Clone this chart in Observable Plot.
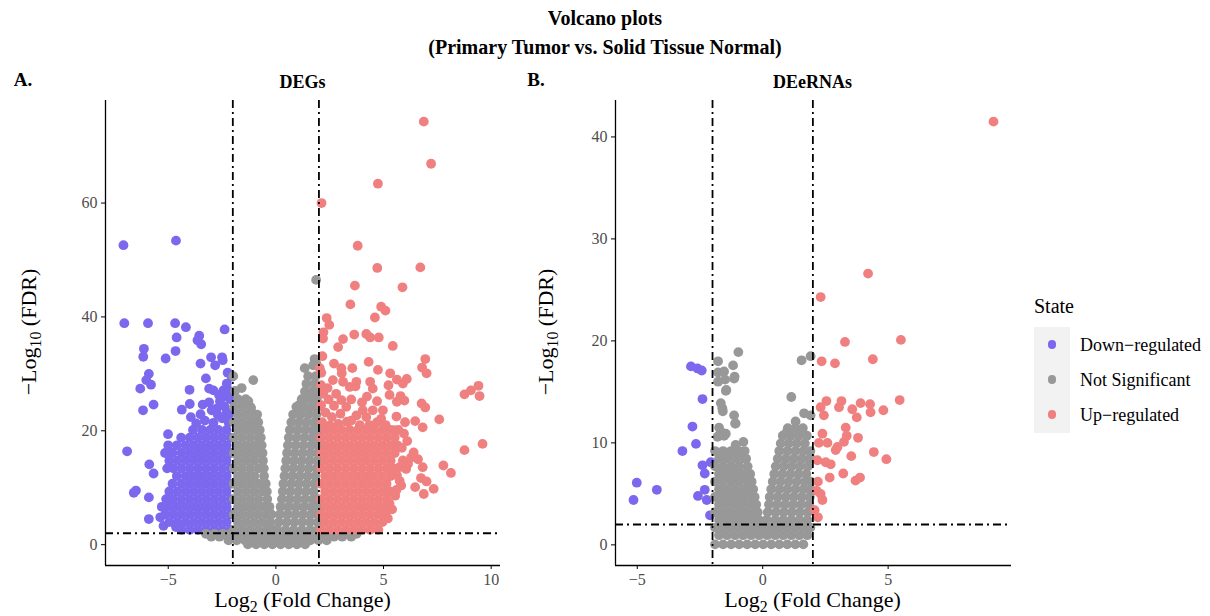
<!DOCTYPE html>
<html><head><meta charset="utf-8">
<script src="https://cdn.jsdelivr.net/npm/d3@7"></script>
<script src="https://cdn.jsdelivr.net/npm/@observablehq/plot@0.6"></script>
<style>
body{margin:0;background:#fff;font-family:"Liberation Serif","Times New Roman",serif;}
#root{position:relative;width:1210px;height:616px;overflow:hidden;background:#fff;}
.t{position:absolute;white-space:nowrap;color:#000;line-height:1;}
.c{transform:translate(-50%,-50%);}
.b{font-weight:bold;}
sub{font-size:72%;vertical-align:baseline;position:relative;top:0.32em;}
svg{position:absolute;top:0;}
svg text{font-family:"Liberation Serif","Times New Roman",serif;}
</style></head><body><div id="root"></div>
<script>
// ---------- shared ----------
const stateNames = ["Down-regulated", "Not Significant", "Up-regulated"];
const stateLabels = ["Down\u2212regulated", "Not Significant", "Up\u2212regulated"];
const stateColors = ["#7B68EE", "#989898", "#F08080"];
const fcCut = 2;     // |log2 FC| threshold
const fdrCut = 2;    // -log10(FDR) threshold

// ---------- Panel A: DEGs ----------
const degXTicks = [-5, 0, 5, 10];
const degYTicks = [0, 20, 40, 60];
const degDownScatter = [
  [-7.08,52.6],[-4.64,53.4],[-7.04,38.9],[-5.94,38.9],[-4.68,38.9],[-4.18,38.2],[-2.38,37.8],
  [-4.61,36.4],[-3.56,36.7],[-3.64,35.9],[-3.47,35.2],[-6.13,34.4],[-6.16,33.0],[-4.66,34.0],[-5.12,32.7],
  [-3.5,31.8],[-3.01,32.9],[-2.82,31.5],[-2.5,32.9],[-2.47,32.4],[-2.24,30.2],[-5.9,30.0],[-6.02,28.9],
  [-5.8,28.1],[-6.3,27.4],[-3.25,29.2],[-4.01,27.2],[-3.1,27.4],[-2.9,27.1],[-2.64,26.3],[-2.44,27.1],
  [-2.28,28.3],[-2.16,27.0],[-5.68,24.6],[-6.17,23.6],[-4.37,23.7],[-4.0,24.7],[-2.98,23.6],[-2.75,23.9],
  [-2.28,23.3],[-3.95,22.4],[-6.91,16.4],[-5.01,19.4],[-5.88,14.1],[-5.68,12.5],[-6.5,9.5],[-6.6,9.1],
  [-5.9,8.3],[-5.9,4.5],[-5.37,4.8],[-5.22,3.3],[-4.64,3.1],
  [-2.2,21.5],[-2.5,22.2],[-2.9,21.4],[-3.3,21.8],[-2.15,23.0],[-2.4,24.3],[-2.7,22.8],[-3.5,22.9],
  [-2.1,25.5],[-2.3,26.0],[-3.1,25.0],[-2.6,25.2],[-3.7,21.3],[-3.4,24.6],[-2.05,29.5]
];
const degDownRows = [
  [2.6,  [-2.1,-2.48,-2.86,-3.24,-3.62,-4.0,-4.38]],
  [3.95, [-2.29,-2.67,-3.05,-3.43,-3.81,-4.19,-4.57,-4.95]],
  [5.3,  [-2.1,-2.48,-2.86,-3.24,-3.62,-4.0,-4.38,-4.76,-5.14]],
  [6.65, [-2.29,-2.67,-3.05,-3.43,-3.81,-4.19,-4.57,-4.95,-5.3]],
  [8.0,  [-2.1,-2.48,-2.86,-3.24,-3.62,-4.0,-4.38,-4.76,-5.1]],
  [9.35, [-2.29,-2.67,-3.05,-3.43,-3.81,-4.19,-4.57,-4.95]],
  [10.7, [-2.1,-2.48,-2.86,-3.24,-3.62,-4.0,-4.38,-4.8]],
  [12.05,[-2.29,-2.67,-3.05,-3.43,-3.81,-4.19,-4.6]],
  [13.4, [-2.1,-2.48,-2.86,-3.24,-3.62,-4.0,-4.38,-4.76,-5.05]],
  [14.75,[-2.29,-2.67,-3.05,-3.43,-3.81,-4.19,-4.57,-4.95]],
  [16.1, [-2.1,-2.48,-2.86,-3.24,-3.62,-4.0,-4.38,-4.8,-5.15]],
  [17.45,[-2.29,-2.67,-3.05,-3.43,-3.81,-4.19,-4.6,-5.0]],
  [18.8, [-2.1,-2.48,-2.86,-3.24,-3.62,-4.0,-4.4]],
  [20.15,[-2.29,-2.67,-3.05,-3.43,-3.85]]
];
const degGreyScatter = [
  [1.87,46.5],[-1.98,29.6],[-1.59,27.5],[-1.05,28.9],[-1.28,25.2],[-1.9,27.0],
  [1.34,31.0],[1.73,31.5],[1.88,31.8],[1.8,32.6],[1.1,24.6],[-1.15,24.0]
];
const degGreyRows = [
  [0.05, [-1.3,-0.92,-0.54,-0.16,0.22,0.6,0.98,1.36]],
  [0.75, [-2.2,-1.82,-1.44,-1.06,-0.68,-0.3,0.08,0.46,0.84,1.22,1.6,1.98,2.36]],
  [1.4,  [-3.0,-2.62,-2.24,-1.86,-1.48,-1.1,-0.72,-0.34,0.04,0.42,0.8,1.18,1.56,1.94,2.32,2.7,3.08,3.5]],
  [1.9,  [-3.25,-2.85,-2.45,-2.1,2.1,2.5,2.9,3.3,3.75]],
  [2.6,  [-1.95,-1.57,-1.19,-0.81,-0.43,-0.12,0.08,0.45,0.83,1.21,1.59,1.95]],
  [3.95, [-1.76,-1.38,-1.0,-0.62,-0.25,0.14,0.5,0.86,1.22,1.58,1.94]],
  [5.3,  [-1.95,-1.57,-1.19,-0.81,-0.43,-0.2,0.18,0.54,0.9,1.26,1.62,1.95]],
  [6.65, [-1.76,-1.38,-1.0,-0.62,-0.3,0.22,0.58,0.94,1.3,1.66,1.95]],
  [8.0,  [-1.95,-1.57,-1.19,-0.81,-0.4,0.28,0.64,1.0,1.36,1.72,1.95]],
  [9.35, [-1.76,-1.38,-1.0,-0.62,-0.42,0.32,0.68,1.04,1.4,1.76]],
  [10.7, [-1.95,-1.57,-1.19,-0.81,-0.47,0.35,0.71,1.07,1.43,1.79]],
  [12.05,[-1.76,-1.38,-1.0,-0.55,0.4,0.76,1.12,1.48,1.84]],
  [13.4, [-1.95,-1.57,-1.19,-0.81,-0.56,0.44,0.8,1.16,1.52,1.88]],
  [14.75,[-1.76,-1.38,-1.0,-0.6,0.48,0.84,1.2,1.56,1.92]],
  [16.1, [-1.95,-1.57,-1.19,-0.81,-0.62,0.52,0.88,1.24,1.6,1.95]],
  [17.45,[-1.76,-1.38,-1.0,-0.66,0.56,0.92,1.28,1.64,1.95]],
  [18.8, [-1.95,-1.57,-1.19,-0.81,-0.7,0.6,0.96,1.32,1.68,1.95]],
  [20.15,[-1.76,-1.38,-1.0,-0.75,0.65,1.0,1.36,1.72,1.95]],
  [21.5, [-1.95,-1.57,-1.19,-0.82,0.72,1.08,1.44,1.8]],
  [22.85,[-1.76,-1.38,-1.0,-0.87,0.8,1.16,1.52,1.88]],
  [24.2, [-1.95,-1.57,-1.19,0.95,1.3,1.66,1.95]],
  [25.55,[-1.76,-1.4,1.2,1.55,1.9]],
  [26.9, [1.35,1.7,1.95]],
  [28.25,[1.42,1.8]],
  [29.6, [1.5,1.85]]
];
const degUpScatter = [
  [6.87,74.3],[7.21,66.9],[4.74,63.4],[2.12,60.0],[3.80,52.5],[4.71,48.6],[6.71,48.7],[3.67,45.5],[5.88,45.2],
  [3.46,42.2],[4.89,41.8],[5.09,41.1],[4.6,39.9],[2.36,39.8],[2.48,38.6],[2.21,37.3],[2.19,36.2],[3.12,36.1],
  [3.64,36.9],[4.2,37.0],[4.38,36.4],[4.78,36.4],[2.89,34.7],[5.43,34.9],[2.16,33.1],[6.94,32.6],[6.79,31.1],
  [7.0,30.1],[2.7,31.8],[3.04,31.0],[3.06,30.1],[3.55,31.0],[4.31,32.1],[4.74,30.7],[5.31,30.1],[5.62,29.0],
  [6.08,29.1],[5.9,28.3],[5.23,28.0],[3.7,27.8],[4.38,28.6],[8.76,26.4],[9.06,27.1],[9.41,27.9],[9.46,26.1],
  [5.79,26.1],[5.62,25.1],[5.97,25.3],[6.77,24.8],[6.94,24.1],[7.59,22.0],[6.47,21.7],[6.82,20.6],
  [9.6,17.7],[8.76,16.6],[6.28,15.3],[6.14,14.2],[6.05,13.3],[6.82,13.6],[7.78,13.9],[8.13,12.6],[6.74,11.7],
  [7.0,11.1],[6.47,10.1],[6.87,8.9],[7.33,9.8],[5.82,10.4],[5.62,12.2],[5.74,13.6],[5.9,14.8],[5.54,8.6],[5.28,7.2],
  [2.04,31.0],[2.11,30.2],[2.65,28.9],[3.12,28.6],[3.43,27.7],[3.74,28.6],[4.5,27.4],[4.23,26.0],[5.28,26.3],
  [3.04,25.4],[3.27,24.2],[3.74,22.7],[3.5,21.8],[4.04,23.6],[4.5,23.6],[4.97,23.6],[4.89,22.1],[4.35,21.0],[5.5,20.1],
  [2.1,28.0],[2.2,26.5],[2.45,25.5],[2.1,24.5],[2.3,23.2],[2.6,22.4],[2.15,21.5],[2.9,21.2],[2.7,24.4],[3.0,23.0],
  [3.3,21.6],[2.5,20.9],[3.9,21.0],[4.2,22.4],[4.7,21.5],[5.1,21.0],[2.8,26.5],[3.5,25.5],[4.0,25.0],[4.7,25.2],
  [2.4,27.5],[5.6,22.5],[6.0,21.5],[5.95,19.5],[6.1,18.2],[5.85,17.0],[6.4,16.2],[6.6,15.0],[5.75,11.2],[5.6,9.6],
  [5.4,6.2],[5.2,4.6]
];
const degUpRows = [
  [2.6,  [2.1,2.48,2.86,3.24,3.62,4.0,4.38,4.76]],
  [3.95, [2.29,2.67,3.05,3.43,3.81,4.19,4.57,4.95]],
  [5.3,  [2.1,2.48,2.86,3.24,3.62,4.0,4.38,4.76,5.1]],
  [6.65, [2.29,2.67,3.05,3.43,3.81,4.19,4.57,4.95,5.25]],
  [8.0,  [2.1,2.48,2.86,3.24,3.62,4.0,4.38,4.76,5.14]],
  [9.35, [2.29,2.67,3.05,3.43,3.81,4.19,4.57,4.95,5.3]],
  [10.7, [2.1,2.48,2.86,3.24,3.62,4.0,4.38,4.76,5.14]],
  [12.05,[2.29,2.67,3.05,3.43,3.81,4.19,4.57,4.95,5.33]],
  [13.4, [2.1,2.48,2.86,3.24,3.62,4.0,4.38,4.76,5.14,5.45]],
  [14.75,[2.29,2.67,3.05,3.43,3.81,4.19,4.57,4.95,5.33]],
  [16.1, [2.1,2.48,2.86,3.24,3.62,4.0,4.38,4.76,5.14,5.52]],
  [17.45,[2.29,2.67,3.05,3.43,3.81,4.19,4.57,4.95,5.33,5.65]],
  [18.8, [2.1,2.48,2.86,3.24,3.62,4.0,4.38,4.76,5.14,5.52]],
  [20.15,[2.29,2.67,3.05,3.43,3.81,4.19,4.57,4.95,5.33,5.7]]
];

// ---------- Panel B: DEeRNAs ----------
const eXTicks = [-5, 0, 5];
const eYTicks = [0, 10, 20, 30, 40];
const eDownScatter = [
  [-2.86,17.5],[-2.6,17.3],[-2.43,17.1],[-2.40,14.3],[-2.8,11.6],[-2.66,9.9],[-3.2,9.2],[-2.4,7.8],
  [-2.31,7.0],[-2.07,8.1],[-5.02,6.1],[-5.15,4.4],[-4.22,5.4],[-2.31,5.4],[-2.58,4.8],[-2.23,4.4],[-2.1,2.9]
];
const eUpScatter = [
  [9.2,41.5],[4.2,26.6],[2.31,24.3],[3.28,19.9],[5.51,20.1],[2.35,18.0],[2.88,17.8],[4.39,18.2],
  [2.54,14.1],[3.14,14.1],[3.04,13.5],[2.31,13.5],[2.44,12.7],[3.57,13.3],[3.75,12.5],[3.9,13.9],[4.28,13.8],
  [4.3,13.0],[4.81,13.2],[5.46,14.2],[2.38,10.9],[2.24,10.0],[2.58,10.0],[2.98,9.6],[2.91,9.3],[3.31,11.5],
  [3.35,10.7],[3.24,10.1],[3.8,10.5],[2.18,8.3],[2.51,8.1],[2.71,7.9],[3.53,8.7],[4.43,9.1],[4.93,8.4],
  [2.67,6.6],[3.21,7.0],[3.7,6.3],[3.88,6.6],[2.2,6.2],[2.15,5.3],[2.31,5.0],[2.38,4.4],[2.07,3.4],[2.2,2.7]
];
const eGreyScatter = [
  [-0.97,18.9],[-1.78,18.0],[-1.18,17.6],[-1.14,16.3],[-1.78,16.9],[-1.78,16.0],[-1.47,15.1],[-1.67,13.9],
  [-1.61,13.4],[-1.14,12.7],[-1.08,11.9],[-1.74,11.5],[-1.47,10.9],[-1.8,10.6],[-0.77,10.1],[-1.08,9.8],
  [-1.54,17.0],[-1.5,16.2],[-1.12,16.5],[-1.45,15.2],[-1.59,13.1],[-1.1,11.9],[-1.67,11.1],[-1.54,10.7],
  [1.55,18.1],[1.91,18.5],[1.14,14.5],[1.65,12.9],[1.91,12.7],[1.31,12.1],[1.58,11.1],[0.98,11.2],[0.92,10.9],[1.91,8.5]
];
const eGreyRows = [
  [0.05, [-1.9,-1.58,-1.26,-0.94,-0.62,-0.3,0.02,0.34,0.66,0.98,1.3,1.62]],
  [0.95, [-1.74,-1.42,-1.1,-0.78,-0.46,-0.14,0.18,0.5,0.82,1.14,1.46,1.78]],
  [1.7,  [-1.9,-1.58,-1.26,-0.94,-0.62,-0.3,-0.08,0.05,0.34,0.66,0.98,1.3,1.62,1.9]],
  [2.45, [-1.74,-1.42,-1.1,-0.78,-0.46,-0.15,0.16,0.5,0.82,1.14,1.46,1.78]],
  [3.2,  [-1.9,-1.58,-1.26,-0.94,-0.62,-0.3,-0.2,0.2,0.52,0.84,1.16,1.48,1.8]],
  [3.95, [-1.74,-1.42,-1.1,-0.78,-0.46,-0.26,0.25,0.57,0.89,1.21,1.53,1.85]],
  [4.7,  [-1.9,-1.58,-1.26,-0.94,-0.62,-0.32,0.28,0.6,0.92,1.24,1.56,1.88]],
  [5.45, [-1.74,-1.42,-1.1,-0.78,-0.46,-0.38,0.34,0.66,0.98,1.3,1.62,1.9]],
  [6.2,  [-1.9,-1.58,-1.26,-0.94,-0.62,-0.44,0.4,0.72,1.04,1.36,1.68,1.92]],
  [6.95, [-1.74,-1.42,-1.1,-0.78,-0.5,0.46,0.78,1.1,1.42,1.74]],
  [7.7,  [-1.9,-1.58,-1.26,-0.94,-0.6,0.52,0.84,1.16,1.48,1.8]],
  [8.45, [-1.74,-1.42,-1.1,-0.78,-0.66,0.6,0.92,1.24,1.56,1.88]],
  [9.2,  [-1.9,-1.58,-1.26,-0.94,-0.72,0.66,0.98,1.3,1.62,1.9]],
  [9.95, [0.72,1.04,1.36,1.68]],
  [10.7, [0.8,1.12,1.44,1.76]],
  [11.45,[1.0,1.3,1.6]]
];

// ---------- build ----------
const fromPairs = (pairs, s) => pairs.map(([x, y]) => ({x, y, state: stateNames[s]}));
const fromRows = (rows, s) => rows.flatMap(([y, xs]) => xs.map(x => ({x, y, state: stateNames[s]})));

const degData = [
  ...fromPairs(degDownScatter, 0), ...fromRows(degDownRows, 0),
  ...fromRows(degGreyRows, 1), ...fromPairs(degGreyScatter, 1),
  ...fromRows(degUpRows, 2), ...fromPairs(degUpScatter, 2)
];
const eData = [
  ...fromPairs(eDownScatter, 0),
  ...fromRows(eGreyRows, 1), ...fromPairs(eGreyScatter, 1),
  ...fromPairs(eUpScatter, 2)
];

function expand(ext) { const p = (ext[1] - ext[0]) * 0.05; return [ext[0] - p, ext[1] + p]; }
const dash = "8,4,2,4";

function panel(data, {left, width, marginLeft, marginRight, xTicks, yTicks}) {
  const xd = expand(d3.extent(data, d => d.x));
  const yd = expand(d3.extent(data, d => d.y));
  const svg = Plot.plot({
    width, height: 616, marginLeft, marginRight, marginTop: 100, marginBottom: 51,
    style: {fontFamily: "'Liberation Serif', serif", fontSize: "16px", color: "#4d4d4d", background: "transparent", overflow: "visible"},
    x: {domain: xd, label: null},
    y: {domain: yd, label: null},
    color: {domain: stateNames, range: stateColors},
    marks: [
      Plot.dot(data, {x: "x", y: "y", fill: "state", r: 4.9}),
      Plot.ruleX([-fcCut, fcCut], {stroke: "black", strokeWidth: 1.8, strokeDasharray: dash}),
      Plot.ruleY([fdrCut], {stroke: "black", strokeWidth: 1.8, strokeDasharray: dash}),
      Plot.ruleX([xd[0]], {stroke: "black", strokeWidth: 1.3}),
      Plot.ruleY([yd[0]], {stroke: "black", strokeWidth: 1.3}),
      Plot.axisX(xTicks, {tickSize: 4, tickPadding: 4, stroke: "black", fill: "#4d4d4d", label: null, fontSize: 16}),
      Plot.axisY(yTicks, {tickSize: 4, tickPadding: 4, stroke: "black", fill: "#4d4d4d", label: null, fontSize: 16})
    ]
  });
  svg.style.left = left + "px";
  return svg;
}

const root = document.getElementById("root");
root.appendChild(panel(degData, {left: 0, width: 520, marginLeft: 105, marginRight: 20, xTicks: degXTicks, yTicks: degYTicks}));
root.appendChild(panel(eData, {left: 520, width: 510, marginLeft: 95, marginRight: 19, xTicks: eXTicks, yTicks: eYTicks}));

function addText(html, x, y, size, cls, extra) {
  const d = document.createElement("div");
  d.className = "t " + cls;
  d.style.left = x + "px"; d.style.top = y + "px"; d.style.fontSize = size + "px";
  if (extra) d.style.transform = extra;
  d.innerHTML = html;
  root.appendChild(d);
  return d;
}
addText("Volcano plots", 605, 18, 20, "c b");
addText("(Primary Tumor vs. Solid Tissue Normal)", 605, 47, 20, "c b");
addText("A.", 23, 79, 19, "c b");
addText("B.", 536, 79, 19, "c b");
addText("DEGs", 302.5, 82, 18, "c b");
addText("DEeRNAs", 812.5, 82, 18, "c b");
addText("Log<sub>2</sub> (Fold Change)", 302.5, 600, 22, "c");
addText("Log<sub>2</sub> (Fold Change)", 812.5, 600, 22, "c");
addText("\u2212Log<sub>10</sub> (FDR)", 29, 332, 22, "", "translate(-50%,-50%) rotate(-90deg)");
addText("\u2212Log<sub>10</sub> (FDR)", 546, 332, 22, "", "translate(-50%,-50%) rotate(-90deg)");

// legend
addText("State", 1034, 306, 20, "", "translateY(-50%)");
const box = document.createElement("div");
box.style.cssText = "position:absolute;left:1034px;top:327px;width:36px;height:106px;background:#f2f2f2;";
root.appendChild(box);
stateNames.forEach((s, i) => {
  const cy = 344.5 + i * 35;
  const dot = document.createElement("div");
  dot.style.cssText = `position:absolute;left:${1052 - 4.3}px;top:${cy - 4.3}px;width:8.6px;height:8.6px;border-radius:50%;background:${stateColors[i]};`;
  root.appendChild(dot);
  addText(stateLabels[i], 1080, cy, 18, "", "translateY(-50%)");
});
</script></body></html>
